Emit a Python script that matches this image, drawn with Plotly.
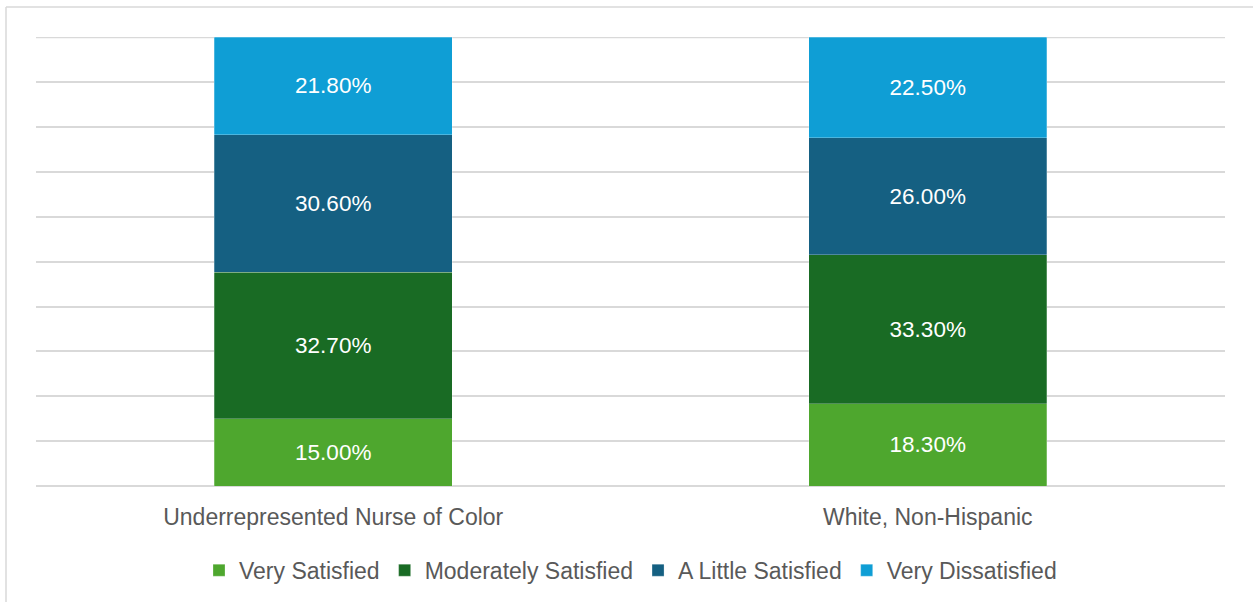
import plotly.graph_objects as go

categories = ["Underrepresented Nurse of Color", "White, Non-Hispanic"]
series_names = ["Very Satisfied", "Moderately Satisfied", "A Little Satisfied", "Very Dissatisfied"]
very_satisfied = [0.150, 0.183]
moderately_satisfied = [0.327, 0.333]
a_little_satisfied = [0.306, 0.260]
very_dissatisfied = [0.218, 0.225]
colors = ["#4EA72E", "#196B24", "#156082", "#0F9ED5"]

series_values = [very_satisfied, moderately_satisfied, a_little_satisfied, very_dissatisfied]

fig = go.Figure()
for name, vals, col in zip(series_names, series_values, colors):
    fig.add_trace(go.Bar(
        x=categories, y=vals, name=name,
        marker=dict(color=col, line=dict(color="rgba(255,255,255,0.5)", width=0.5)),
        text=[f"{v*100:.2f}%" for v in vals],
        textposition="inside", insidetextanchor="middle",
        textfont=dict(color="white", size=22.5, family="Liberation Sans, Arial"),
        hoverinfo="skip",
    ))

fig.update_layout(
    barmode="stack",
    bargap=0.6,
    width=1253, height=602,
    margin=dict(l=36, r=28, t=37, b=115),
    plot_bgcolor="white", paper_bgcolor="white",
    font=dict(family="Liberation Sans, Arial", color="#595959"),
    legend=dict(
        orientation="h", x=0.5, xanchor="center", y=-0.185, yanchor="middle",
        font=dict(size=23, color="#595959"), traceorder="normal",
        itemwidth=30,
    ),
    shapes=[
        dict(type="line", xref="paper", yref="paper", x0=-30/1189, x1=1.2, y0=1 + 30/450, y1=1 + 30/450,
             line=dict(color="#D9D9D9", width=1.5)),
        dict(type="line", xref="paper", yref="paper", x0=-30/1189, x1=-30/1189, y0=-0.4, y1=1 + 30/450,
             line=dict(color="#D9D9D9", width=1.5)),
        dict(type="line", xref="paper", yref="y", x0=0, x1=1, y0=1.0, y1=1.0, layer="below",
             line=dict(color="#D9D9D9", width=1.5)),
    ],
)
fig.update_xaxes(showgrid=False, showline=False, ticks="", ticklabelstandoff=15,
                 tickfont=dict(size=23, color="#595959"))
fig.update_yaxes(range=[0, 1.001], dtick=0.1, showticklabels=False, gridcolor="#D9D9D9", gridwidth=1.5,
                 zeroline=True, zerolinecolor="#D9D9D9", zerolinewidth=1.5)

fig.write_html("out.html", config={"displayModeBar": False},
               post_script="document.body.style.margin='0';")
